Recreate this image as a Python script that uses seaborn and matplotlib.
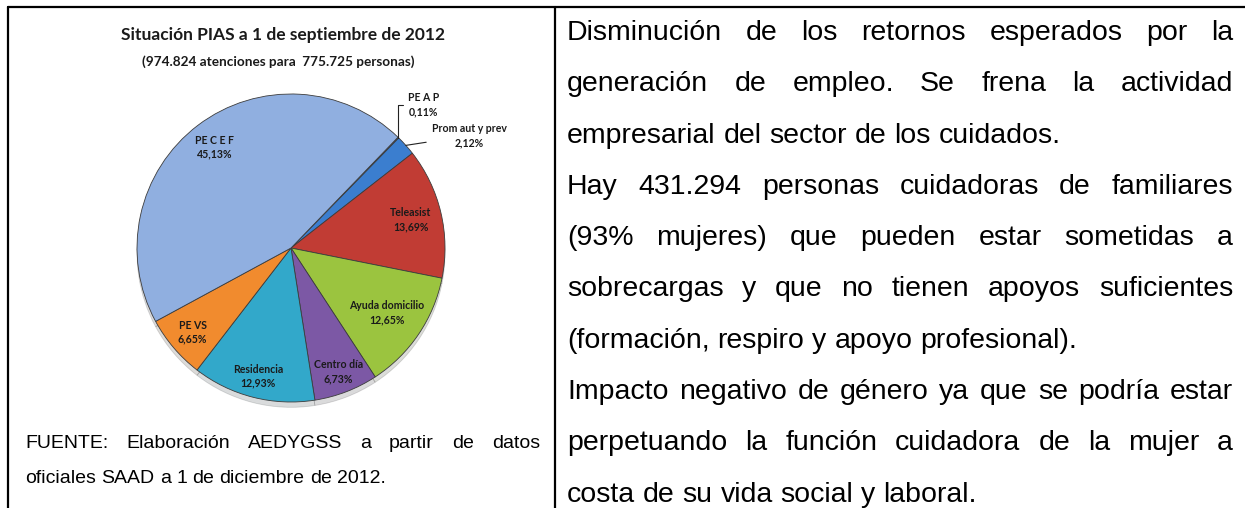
import matplotlib
matplotlib.use("Agg")
import matplotlib.pyplot as plt
import matplotlib.transforms as mtransforms
from matplotlib import font_manager
import numpy as np
import seaborn as sns

# ---- data ----
slice_labels = ["PE A P", "Prom aut y prev", "Teleasist", "Ayuda domicilio",
                "Centro día", "Residencia", "PE VS", "PE C E F"]
slice_shares = [0.11, 2.12, 13.69, 12.65, 6.73, 12.93, 6.65, 45.13]
slice_colors = ["#2b5c9c", "#3b7ecf", "#c13c34", "#9bc43f", "#7c58a5",
                "#32a8ca", "#f18b2e", "#90afe0"]

title_text = "Situación PIAS a 1 de septiembre de 2012"
subtitle_text = "(974.824 atenciones para  775.725 personas)"

source_lines = ["FUENTE: Elaboración AEDYGSS a partir de datos",
                "oficiales SAAD a 1 de diciembre de 2012."]

body_lines = [
    "Disminución de los retornos esperados por la",
    "generación de empleo. Se frena la actividad",
    "empresarial del sector de los cuidados.",
    "Hay 431.294 personas cuidadoras de familiares",
    "(93% mujeres) que pueden estar sometidas a",
    "sobrecargas y que no tienen apoyos suficientes",
    "(formación, respiro y apoyo profesional).",
    "Impacto negativo de género ya que se podría estar",
    "perpetuando la función cuidadora de la mujer a",
    "costa de su vida social y laboral.",
]
# last line of each paragraph is not stretched
body_para_end = [False, False, True, False, False, False, True, False, False, True]

W, H = 1245, 508

sns.set_theme(style="white")
names = {f.name for f in font_manager.fontManager.ttflist}
narrow = "Liberation Sans Narrow" in names
body_font = "Liberation Sans Narrow" if narrow else "Liberation Sans"
body_size = 25 if narrow else 20.5

fig = plt.figure(figsize=(W / 100, H / 100), dpi=100)
fig.patch.set_facecolor("white")
# pixel coordinates, y measured from the top
px = mtransforms.Affine2D().scale(1 / W, -1 / H).translate(0, 1) + fig.transFigure

# table borders
for xs, ys in [((8, W), (7, 7)), ((8, 8), (7, H)), ((555, 555), (7, H))]:
    fig.add_artist(plt.Line2D(xs, ys, transform=px, color="black", lw=1.6))

# ---- pie ----
cx, cy, r = 291, 248, 154
pad = 1.35
ax = fig.add_axes([(cx - pad * r) / W, (H - cy - pad * r) / H,
                   2 * pad * r / W, 2 * pad * r / H])
wedges, _ = ax.pie(slice_shares, colors=slice_colors, startangle=46,
                   counterclock=False,
                   shadow=dict(ox=0.0, oy=-0.025, shade=0.9, alpha=0.15),
                   wedgeprops=dict(edgecolor="#3c3c3c", linewidth=0.6))
ax.set_xlim(-pad, pad)
ax.set_ylim(-pad, pad)
ax.set_aspect("equal")
ax.axis("off")

label_radius = [None, None, 0.80, 0.75, 0.86, 0.86, 0.84, 0.82]
lab_kw = dict(family="Lato", weight="bold", fontsize=7.6, color="#1a1a1a",
              ha="center", va="center", linespacing=1.3)
for w, name, share, lr in zip(wedges, slice_labels, slice_shares, label_radius):
    if lr is None:
        continue
    txt = f"{name}\n{share:.2f}%".replace(".", ",")
    ang = np.deg2rad((w.theta1 + w.theta2) / 2)
    ax.text(lr * np.cos(ang), lr * np.sin(ang), txt, **lab_kw)

# the two thin slices get leader lines
a0 = np.deg2rad((wedges[0].theta1 + wedges[0].theta2) / 2)
ax.annotate(f"{slice_labels[0]}\n{slice_shares[0]:.2f}%".replace(".", ","),
            xy=(np.cos(a0), np.sin(a0)), xytext=(0.86, 0.93),
            arrowprops=dict(arrowstyle="-", color="#222222", lw=0.8,
                            connectionstyle="angle,angleA=0,angleB=90,rad=0",
                            shrinkA=1, shrinkB=0),
            annotation_clip=False, **lab_kw)
a1 = np.deg2rad((wedges[1].theta1 + wedges[1].theta2) / 2)
ax.annotate(f"{slice_labels[1]}\n{slice_shares[1]:.2f}%".replace(".", ","),
            xy=(np.cos(a1), np.sin(a1)), xytext=(1.16, 0.73),
            arrowprops=dict(arrowstyle="-", color="#222222", lw=0.8,
                            shrinkA=2, shrinkB=0),
            annotation_clip=False, **lab_kw)

# ---- titles ----
fig.text(283, 35, title_text, transform=px, family="Lato", weight="bold",
         fontsize=12.5, ha="center", va="center", color="#1a1a1a")
fig.text(278, 62, subtitle_text, transform=px, family="Lato", weight="bold",
         fontsize=9.8, ha="center", va="center", color="#1a1a1a")

# ---- justified paragraphs ----
renderer = fig.canvas.get_renderer()


def justified(lines, ends, x0, x1, y0, step, **kw):
    for i, (line, end) in enumerate(zip(lines, ends)):
        y = y0 + i * step
        words = line.split(" ")
        texts = [fig.text(0, y, wd, transform=px, ha="left", va="baseline", **kw)
                 for wd in words]
        widths = [t.get_window_extent(renderer).width for t in texts]
        if end or len(words) == 1:
            sp = fig.text(0, y, "a b", transform=px, **kw)
            ab = fig.text(0, y, "ab", transform=px, **kw)
            gap = (sp.get_window_extent(renderer).width
                   - ab.get_window_extent(renderer).width)
            sp.remove()
            ab.remove()
        else:
            gap = (x1 - x0 - sum(widths)) / (len(words) - 1)
        x = x0
        for t, wd in zip(texts, widths):
            t.set_x(x)
            x += wd + gap


justified(source_lines, [False, True], 25, 540, 448, 35,
          family="Liberation Sans", fontsize=14, color="black")
justified(body_lines, body_para_end, 567, 1233, 40, 51.3,
          family=body_font, fontsize=body_size, color="black")

fig.savefig("out.png", dpi=100)
